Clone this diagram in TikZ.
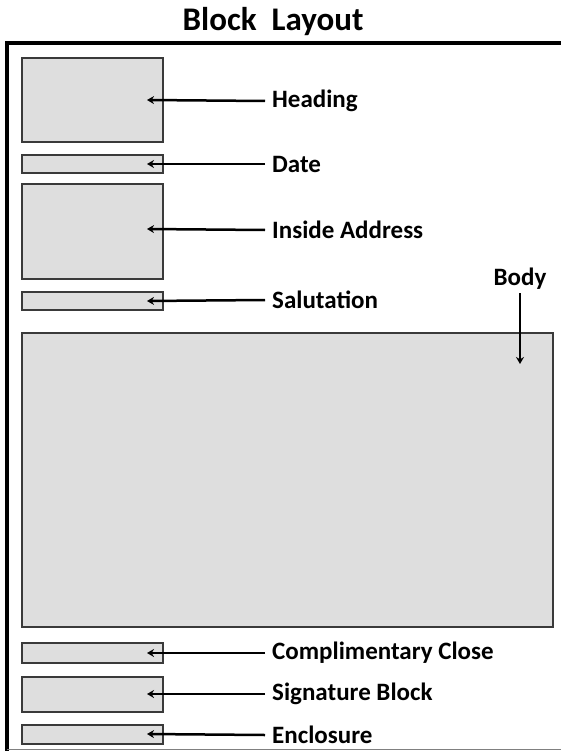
\documentclass[tikz,border=0pt]{standalone}
\usepackage{fontspec}
\setmainfont{Carlito}
\usetikzlibrary{arrows.meta}

\definecolor{boxfill}{HTML}{DEDEDE}
\definecolor{boxline}{HTML}{3A3A3A}

\tikzset{
  box/.style={fill=boxfill, draw=boxline, line width=1.6pt},
  lbl/.style={anchor=west, inner ysep=0pt, inner xsep=7pt, font=\bfseries\fontsize{25}{28}\selectfont},
  arr/.style={line width=2.5pt, -{Stealth[length=7pt,width=8pt]}}
}

\begin{document}
\begin{tikzpicture}[x=1pt,y=-1pt]
\useasboundingbox (0,0) rectangle (561,751);
\fill[white] (0,0) rectangle (561,751);
\node[font=\bfseries\fontsize{33}{36}\selectfont, inner sep=0pt] (title) at (273,22) {Block\ \ Layout};
% page frame
\draw[line width=3.5pt] (7,751) -- (7,43) -- (561,43);
\draw[gray, line width=1pt] (7,749) -- (561,749);
% blocks
\path[box] (22,58) rectangle (163,142);
\path[box] (22,155) rectangle (163,173);
\path[box] (22,184) rectangle (163,279);
\path[box] (22,292) rectangle (163,310);
\path[box] (22,333) rectangle (553,627);
\path[box] (22,643) rectangle (163,663);
\path[box] (22,677) rectangle (163,712);
\path[box] (22,725) rectangle (163,744);
% arrow ends
\coordinate (heading) at (147,100);
\coordinate (date) at (147,164);
\coordinate (inside) at (147,229);
\coordinate (salut) at (147,301);
\coordinate (body) at (520,364);
\coordinate (close) at (147,653);
\coordinate (sign) at (147,694);
\coordinate (encl) at (147,734);
% labels
\node[lbl] (headinglbl) at (265,101) {Heading};
\node[lbl] (datelbl) at (265,164) {Date};
\node[lbl] (insidelbl) at (265,230) {Inside Address};
\node[lbl] (salutlbl) at (265,300) {Salutation};
\node[lbl, anchor=south] (bodylbl) at (520,290) {Body};
\node[lbl] (closelbl) at (265,653) {Complimentary Close};
\node[lbl] (signlbl) at (265,694) {Signature Block};
\node[lbl] (encllbl) at (265,735) {Enclosure};
% arrows
\draw[arr] (headinglbl.west) -- (heading);
\draw[arr] (datelbl.west) -- (date);
\draw[arr] (insidelbl.west) -- (inside);
\draw[arr] (salutlbl.west) -- (salut);
\draw[arr] (bodylbl.south) ++(0,3) -- (body);
\draw[arr] (closelbl.west) -- (close);
\draw[arr] (signlbl.west) -- (sign);
\draw[arr] (encllbl.west) -- (encl);
\end{tikzpicture}
\end{document}
